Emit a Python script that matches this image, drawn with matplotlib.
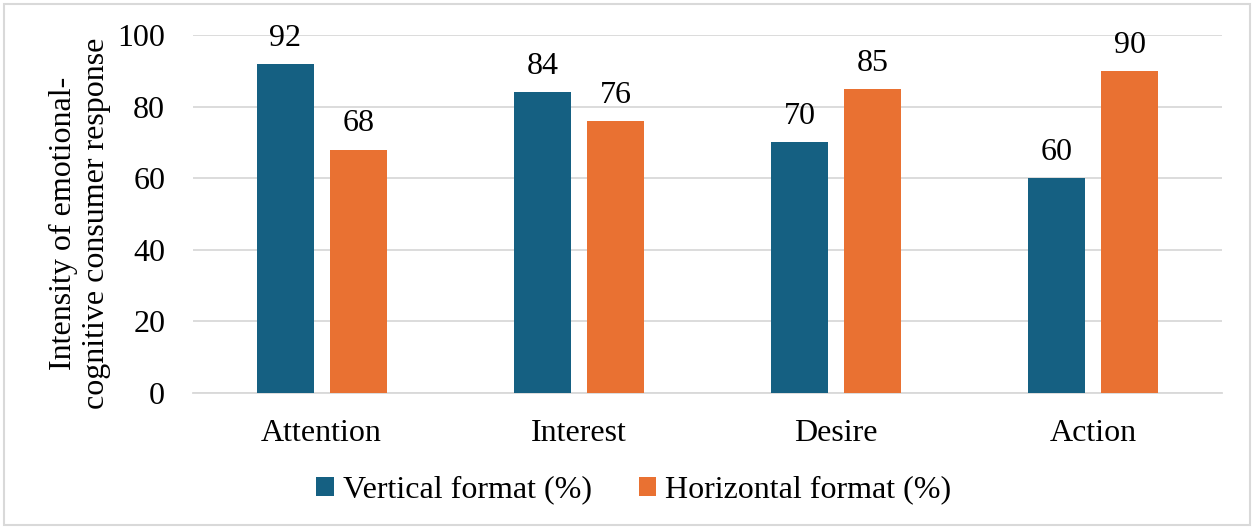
import matplotlib
matplotlib.use("Agg")
import matplotlib.pyplot as plt
import numpy as np
from matplotlib.patches import Rectangle

categories = ["Attention", "Interest", "Desire", "Action"]
vertical = [92, 84, 70, 60]
horizontal = [68, 76, 85, 90]
series_names = ["Vertical format (%)", "Horizontal format (%)"]
yticks = [0, 20, 40, 60, 80, 100]

plt.rcParams['font.family'] = ['Liberation Serif', 'DejaVu Serif']
FS = 23

fig = plt.figure(figsize=(12.54, 5.29), dpi=100)
ax = fig.add_axes([193/1254, 1-393/529, (1222-193)/1254, (393-35)/529])

x = np.arange(len(categories))
w = 0.222
off = 0.142
b1 = ax.bar(x - off, vertical, w, color="#156082", label=series_names[0], zorder=3)
b2 = ax.bar(x + off, horizontal, w, color="#E97132", label=series_names[1], zorder=3)
for bars, vals in ((b1, vertical), (b2, horizontal)):
    for r, v in zip(bars, vals):
        ax.annotate(str(v), (r.get_x() + r.get_width()/2, v), xytext=(0, 8),
                    textcoords="offset points", ha="center", va="bottom", fontsize=FS)

ax.set_xlim(-0.5, len(categories) - 0.5)
ax.set_ylim(0, 100)
ax.set_yticks(yticks)
ax.set_xticks(x)
ax.set_xticklabels(categories, fontsize=FS)
ax.tick_params(axis='y', labelsize=FS, length=0, pad=20)
ax.tick_params(axis='x', length=0, pad=19)
ax.grid(axis='y', color="#D9D9D9", linewidth=1.3, zorder=0)
for s in ["top", "right", "left"]:
    ax.spines[s].set_visible(False)
ax.spines["bottom"].set_color("#D9D9D9")
ax.spines["bottom"].set_linewidth(1.3)
fig.text(80/1254, 1-223/529, "Intensity of emotional-\ncognitive consumer response",
         rotation=90, ha="center", va="center", multialignment="center",
         fontsize=FS, linespacing=1.15)

leg = fig.legend(handles=[b1, b2], labels=series_names, loc="center",
                 bbox_to_anchor=(634/1254, 1-490/529), ncol=2, frameon=False, fontsize=FS,
                 handlelength=0.55, handleheight=0.55, handletextpad=0.28, columnspacing=1.47)

fig.patches.append(Rectangle((4/1254, 4/529), 1246/1254, 521/529, transform=fig.transFigure,
                             fill=False, edgecolor="#D9D9D9", linewidth=1.5))

fig.savefig("out.png", dpi=100)
